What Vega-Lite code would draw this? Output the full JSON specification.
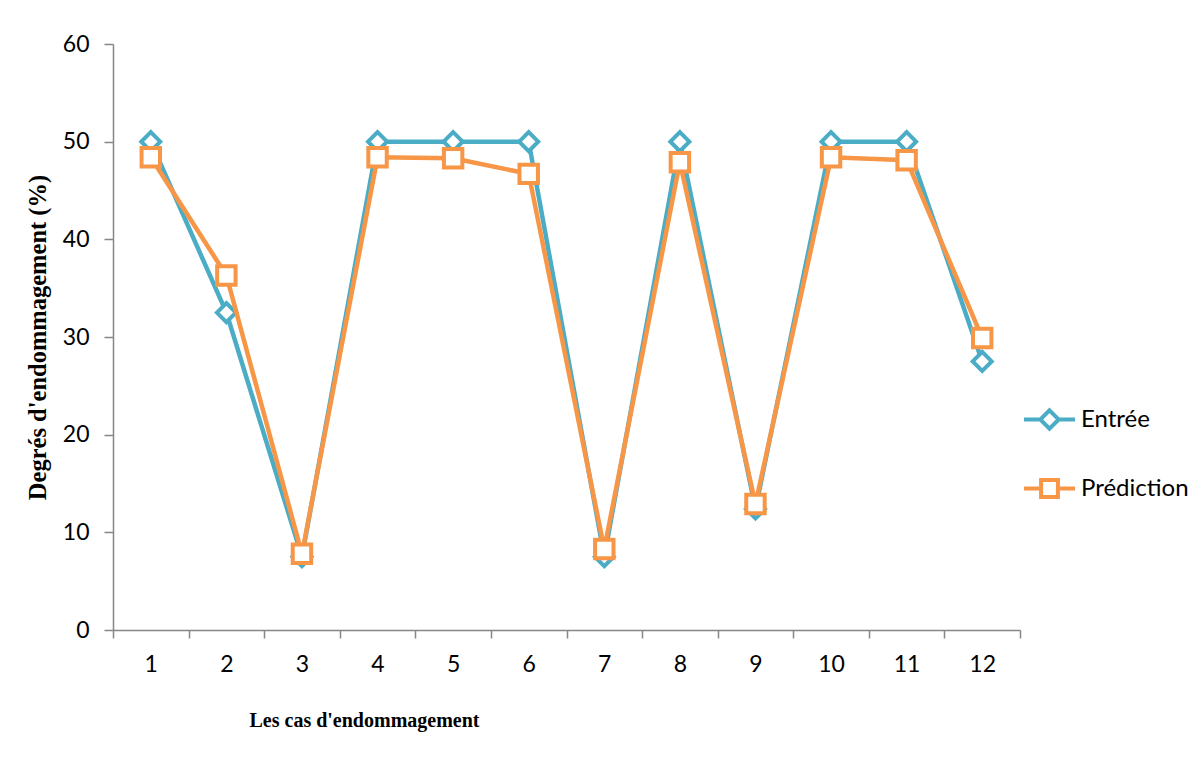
{
  "$schema": "https://vega.github.io/schema/vega-lite/v6.json",
  "autosize": {"type": "none"},
  "padding": {"left": 113, "top": 44, "right": 180, "bottom": 139},
  "width": 907,
  "height": 586,
  "background": "white",
  "config": {
    "view": {"stroke": null},
    "axis": {"grid": false, "domainColor": "#868686", "tickColor": "#868686", "domainWidth": 1.5, "tickWidth": 1.5, "labelFont": "Lato", "labelFontSize": 23, "labelColor": "#000000", "titleFont": "Liberation Serif", "titleFontWeight": "bold", "titleFontSize": 20, "titleColor": "#000000"},
    "legend": {"labelFont": "Lato", "labelFontSize": 24, "labelColor": "#000000", "padding": 0}
  },
  "data": {
    "values": [
      {"cas": 1, "serie": "Entrée", "valeur": 50},
      {"cas": 2, "serie": "Entrée", "valeur": 32.5},
      {"cas": 3, "serie": "Entrée", "valeur": 7.5},
      {"cas": 4, "serie": "Entrée", "valeur": 50},
      {"cas": 5, "serie": "Entrée", "valeur": 50},
      {"cas": 6, "serie": "Entrée", "valeur": 50},
      {"cas": 7, "serie": "Entrée", "valeur": 7.5},
      {"cas": 8, "serie": "Entrée", "valeur": 50},
      {"cas": 9, "serie": "Entrée", "valeur": 12.4},
      {"cas": 10, "serie": "Entrée", "valeur": 50},
      {"cas": 11, "serie": "Entrée", "valeur": 50},
      {"cas": 12, "serie": "Entrée", "valeur": 27.5},
      {"cas": 1, "serie": "Prédiction", "valeur": 48.4},
      {"cas": 2, "serie": "Prédiction", "valeur": 36.3},
      {"cas": 3, "serie": "Prédiction", "valeur": 7.8},
      {"cas": 4, "serie": "Prédiction", "valeur": 48.4},
      {"cas": 5, "serie": "Prédiction", "valeur": 48.3},
      {"cas": 6, "serie": "Prédiction", "valeur": 46.7},
      {"cas": 7, "serie": "Prédiction", "valeur": 8.3},
      {"cas": 8, "serie": "Prédiction", "valeur": 47.9},
      {"cas": 9, "serie": "Prédiction", "valeur": 12.9},
      {"cas": 10, "serie": "Prédiction", "valeur": 48.4},
      {"cas": 11, "serie": "Prédiction", "valeur": 48.1},
      {"cas": 12, "serie": "Prédiction", "valeur": 29.9}
    ]
  },
  "encoding": {
    "x": {
      "field": "cas", "type": "quantitative",
      "scale": {"domain": [0.5, 12.5], "nice": false, "zero": false},
      "axis": {
        "values": [0.5, 1, 1.5, 2, 2.5, 3, 3.5, 4, 4.5, 5, 5.5, 6, 6.5, 7, 7.5, 8, 8.5, 9, 9.5, 10, 10.5, 11, 11.5, 12, 12.5],
        "labelExpr": "datum.value % 1 === 0 ? datum.value : ''",
        "tickOpacity": {"condition": {"test": "datum.value % 1 === 0", "value": 0}, "value": 1},
        "tickSize": 8,
        "labelPadding": 15,
        "labelFlush": false,
        "labelOverlap": false,
        "title": "Les cas d'endommagement",
        "titleX": 251,
        "titleY": 90,
        "titleAlign": "center",
        "titleBaseline": "middle"
      }
    },
    "y": {
      "field": "valeur", "type": "quantitative",
      "scale": {"domain": [0, 60], "nice": false},
      "axis": {
        "values": [0, 10, 20, 30, 40, 50, 60],
        "tickSize": 9,
        "labelPadding": 15,
        "title": "Degrés d'endommagement (%)",
        "titleFontSize": 24.5,
        "titleX": -75,
        "titleY": 293,
        "titleAngle": -90,
        "titleAlign": "center",
        "titleBaseline": "middle"
      }
    }
  },
  "layer": [
    {
      "transform": [{"filter": "datum.serie === 'Entrée'"}],
      "mark": {"type": "line", "strokeWidth": 4.5, "color": "#4bacc6"}
    },
    {
      "transform": [{"filter": "datum.serie === 'Entrée'"}],
      "mark": {"type": "point", "shape": "diamond", "size": 360, "filled": false, "stroke": "#4bacc6", "fill": "white", "fillOpacity": 1, "opacity": 1, "strokeWidth": 4}
    },
    {
      "transform": [{"filter": "datum.serie === 'Prédiction'"}],
      "mark": {"type": "line", "strokeWidth": 4.5, "color": "#f79646"}
    },
    {
      "transform": [{"filter": "datum.serie === 'Prédiction'"}],
      "mark": {"type": "point", "shape": "square", "size": 340, "filled": false, "stroke": "#f79646", "fill": "white", "fillOpacity": 1, "opacity": 1, "strokeWidth": 4}
    },
    {
      "mark": {"type": "point", "filled": false, "strokeWidth": 4, "opacity": 0},
      "encoding": {
        "stroke": {
          "field": "serie", "type": "nominal",
          "scale": {"domain": ["Entrée", "Prédiction"], "range": ["#4bacc6", "#f79646"]},
          "legend": {
            "title": null,
            "orient": "none",
            "legendX": 909,
            "legendY": 348,
            "symbolSize": 2601,
            "symbolStrokeWidth": 4,
            "symbolOpacity": 1,
            "symbolFillColor": "white",
            "labelOffset": 4,
            "rowPadding": 24
          }
        },
        "shape": {
          "field": "serie", "type": "nominal",
          "scale": {"domain": ["Entrée", "Prédiction"], "range": ["M-1,0H-0.36M0.36,0H1M0,-0.36L0.36,0L0,0.36L-0.36,0Z", "M-1,0H-0.33M0.33,0H1M-0.33,-0.33H0.33V0.33H-0.33Z"]},
          "legend": {
            "title": null,
            "orient": "none",
            "legendX": 909,
            "legendY": 348,
            "symbolSize": 2601,
            "symbolStrokeWidth": 4,
            "symbolOpacity": 1,
            "symbolFillColor": "white",
            "labelOffset": 4,
            "rowPadding": 24
          }
        }
      }
    }
  ]
}
